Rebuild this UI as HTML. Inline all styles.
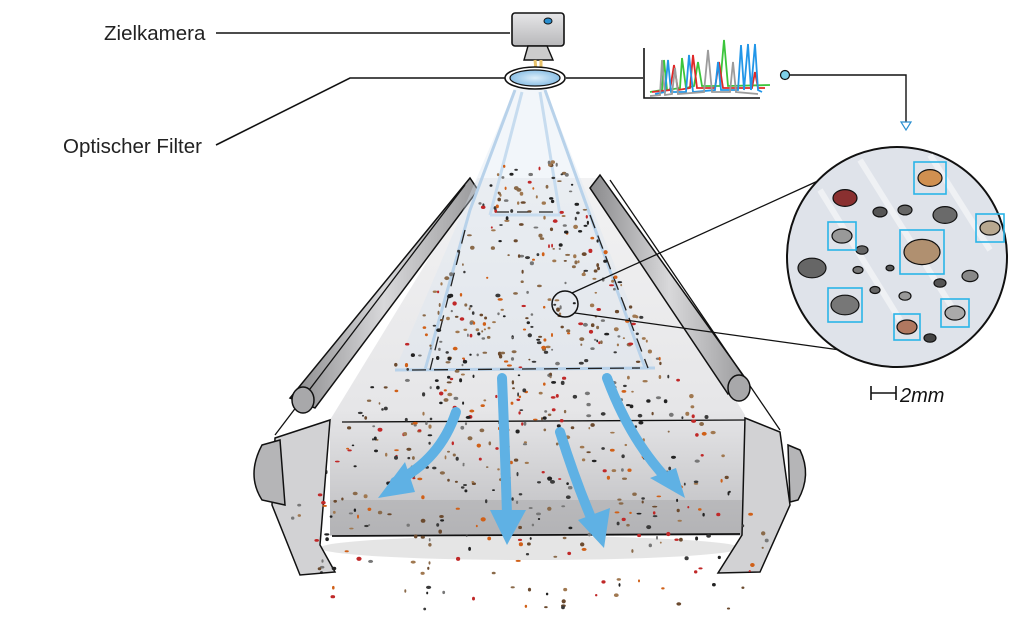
<!DOCTYPE html>
<html><head><meta charset="utf-8"><style>
html,body{margin:0;padding:0;background:#fff;width:1030px;height:618px;overflow:hidden}
svg text{font-family:"Liberation Sans",sans-serif}
</style></head><body>
<svg id="s" width="1030" height="618" viewBox="0 0 1030 618" xmlns="http://www.w3.org/2000/svg">
<defs>
<linearGradient id="belt" x1="0" y1="0" x2="0" y2="1">
<stop offset="0" stop-color="#f2f2f3"/><stop offset="0.65" stop-color="#e6e6e8"/><stop offset="1" stop-color="#bdbdc0"/></linearGradient>
<linearGradient id="rail" x1="0" y1="0" x2="1" y2="0">
<stop offset="0" stop-color="#8a8a8c"/><stop offset="0.5" stop-color="#d8d8da"/><stop offset="1" stop-color="#9a9a9c"/></linearGradient>
<linearGradient id="cam" x1="0" y1="0" x2="0" y2="1">
<stop offset="0" stop-color="#e6e6e8"/><stop offset="1" stop-color="#b8b8ba"/></linearGradient>
<radialGradient id="lens" cx="0.5" cy="0.5" r="0.5"><stop offset="0" stop-color="#dceefa"/><stop offset="1" stop-color="#8cc0e6"/></radialGradient>
</defs>
<text x="104" y="40" font-size="20.5" fill="#222">Zielkamera</text>
<text x="63" y="153" font-size="20.5" fill="#222">Optischer Filter</text>
<path d="M216 33 L510 33" stroke="#111" stroke-width="1.6" fill="none"/>
<path d="M216 145 L350 78 L505 78" stroke="#111" stroke-width="1.6" fill="none"/>
<path d="M566 78 L643 78" stroke="#111" stroke-width="1.6" fill="none"/>
<polygon points="478,178 598,178 745,415 745,535 330,535 330,420" fill="url(#belt)"/>
<rect x="330" y="500" width="415" height="36" fill="#a9a9ac" opacity="0.5"/>
<ellipse cx="530" cy="548" rx="210" ry="12" fill="#ccc" opacity="0.5"/>
<path d="M342 422 L745 420" stroke="#111" stroke-width="1.3"/>
<path d="M332 536 L740 534" stroke="#111" stroke-width="1.8"/>
<path d="M470 178 L290 398 L315 408 L478 190 Z" fill="url(#rail)" stroke="#111" stroke-width="1.5"/>
<path d="M600 175 L748 382 L728 394 L590 188 Z" fill="url(#rail)" stroke="#111" stroke-width="1.5"/>
<path d="M465 185 L275 435" stroke="#111" stroke-width="1.3"/>
<path d="M610 180 L780 430" stroke="#111" stroke-width="1.3"/>
<ellipse cx="303" cy="400" rx="11" ry="13" fill="#a8a8aa" stroke="#111" stroke-width="1.5"/>
<ellipse cx="739" cy="388" rx="11" ry="13" fill="#a8a8aa" stroke="#111" stroke-width="1.5"/>
<path d="M275 438 L330 420 L320 545 L335 572 L300 575 L272 505 Z" fill="#d2d2d4" stroke="#111" stroke-width="1.5"/>
<path d="M262 445 L280 440 L285 505 L262 500 Q246 475 262 445 Z" fill="#b5b5b7" stroke="#111" stroke-width="1.5"/>
<path d="M745 418 L780 432 L790 505 L760 572 L718 573 L742 535 Z" fill="#d2d2d4" stroke="#111" stroke-width="1.5"/>
<path d="M788 445 L800 450 Q812 475 798 500 L790 502 Z" fill="#b5b5b7" stroke="#111" stroke-width="1.5"/>
<polygon points="515,88 545,88 655,368 395,370" fill="#dbe6f2" opacity="0.35"/>
<path d="M515 90 L470 210 L425 370 M545 90 L590 215 L645 368 M395 370 L655 368" stroke="#b8d2ea" stroke-width="3" fill="none"/>
<path d="M522 92 L490 215 M540 92 L560 215 M490 215 L560 215" stroke="#c7dcef" stroke-width="3" fill="none"/>
<path d="M495 212 L555 212 M465 230 L430 370 M590 215 L648 368 M412 370 L640 368" stroke="#222" stroke-width="1.3" stroke-dasharray="14 8" fill="none"/>
<g id="parts"></g>
<g stroke="#5fb1e4" stroke-width="10" fill="none" stroke-linecap="round">
<path d="M502 378 Q505 450 507 515"/>
<path d="M560 432 Q575 480 592 520"/>
<path d="M456 412 Q440 460 395 482"/>
<path d="M607 378 Q630 440 668 480"/>
</g>
<g fill="#5fb1e4">
<polygon points="490,510 526,510 507,545"/>
<polygon points="578,520 610,508 604,548"/>
<polygon points="405,462 415,492 378,498"/>
<polygon points="650,478 676,468 685,498"/>
</g>
<rect x="512" y="13" width="52" height="33" rx="3" fill="url(#cam)" stroke="#111" stroke-width="1.6"/>
<ellipse cx="548" cy="21" rx="4" ry="3" fill="#2a8fd0" stroke="#111" stroke-width="1"/>
<path d="M528 46 L547 46 L553 60 L524 60 Z" fill="#ccc" stroke="#111" stroke-width="1.4"/>
<path d="M535 60 L536 70 M541 60 L541 70" stroke="#e8c26a" stroke-width="3"/>
<ellipse cx="535" cy="78" rx="30" ry="11" fill="#fff" stroke="#111" stroke-width="1.6"/>
<ellipse cx="535" cy="78" rx="25" ry="8" fill="url(#lens)" stroke="#111" stroke-width="1.2"/>
<path d="M644 48 L644 98 L760 98" stroke="#111" stroke-width="1.6" fill="none"/>
<path d="M650 92 L662 90 L664 60 L667 90 L680 88 L682 58 L686 88 L694 86 L698 62 L702 86 L720 86 L724 40 L728 86 L770 85" stroke="#3cc53c" stroke-width="1.8" fill="none"/>
<path d="M652 92 L670 90 L674 65 L678 90 L690 88 L693 55 L697 88 L715 88 L719 62 L723 88 L752 88 L755 72 L758 88 L765 88" stroke="#e02828" stroke-width="1.8" fill="none"/>
<path d="M655 94 L665 92 L668 60 L671 92 L686 92 L689 55 L693 92 L715 90 L718 62 L721 90 L738 90 L741 45 L744 90 L748 44 L751 90 L755 44 L758 90 L762 92" stroke="#2196e8" stroke-width="1.8" fill="none"/>
<path d="M650 96 L660 95 L662 60 L665 95 L672 94 L675 68 L678 94 L704 92 L708 50 L712 92 L730 92 L733 62 L736 92 L758 94" stroke="#9c9c9c" stroke-width="1.8" fill="none"/>
<circle cx="785" cy="75" r="4.5" fill="#7fd0e8" stroke="#111" stroke-width="1.2"/>
<path d="M790 75 L906 75 L906 122" stroke="#111" stroke-width="1.4" fill="none"/>
<polygon points="901,122 911,122 906,130" fill="#fff" stroke="#2a8fd0" stroke-width="1.2"/>
<circle cx="565" cy="304" r="13" fill="none" stroke="#111" stroke-width="1.5"/>
<path d="M572 293 L820 180 M575 313 L840 350" stroke="#111" stroke-width="1.3"/>
<circle cx="897" cy="257" r="110" fill="#dfe3ea" stroke="#111" stroke-width="2"/>
<g stroke="#fff" stroke-width="6" opacity="0.5"><path d="M820 190 L900 320 M860 160 L960 320 M930 155 L990 250"/></g>
<g id="rocks"></g>
<path d="M871 386 L871 400 M871 393 L896 393 M896 386 L896 400" stroke="#111" stroke-width="1.6"/>
<text x="900" y="402" font-size="20" fill="#111" font-style="italic">2mm</text>
</svg>
<script>
(function(){
var s=1234567;function r(){s=(s*16807)%2147483647;return s/2147483647;}
var cols=["#c02828","#6b4a2e","#3a3a3a","#8a6a4a","#d06018","#777","#a07850","#222"];
var g=document.getElementById("parts"),h="";
for(var i=0;i<900;i++){
 var y=160+r()*450,t;
 var w;
 if(y<370){t=(y-160)/210;w=30+t*110;}else if(y<540){w=150+(y-370)*0.6;}else{w=240-(y-540)*0.5;}
 var x=530+(r()*2-1)*w;
 if(y>540&&r()<0.5)continue;
 if(y<300&&r()<0.45)continue;
 var c=cols[Math.floor(r()*cols.length)];
 var rx=0.9+r()*1.7,ry=0.9+r()*1.2;
 h+='<ellipse cx="'+x.toFixed(1)+'" cy="'+y.toFixed(1)+'" rx="'+rx.toFixed(1)+'" ry="'+ry.toFixed(1)+'" fill="'+c+'"/>';
}
g.innerHTML=h;
var rk=[[845,198,12,"#8a3030"],[930,178,12,"#d09050"],[880,212,7,"#555"],[905,210,7,"#666"],[945,215,12,"#6a6a6a"],[990,228,10,"#b8a890"],[842,236,10,"#999"],[922,252,18,"#b09070"],[862,250,6,"#666"],[812,268,14,"#666"],[858,270,5,"#777"],[890,268,4,"#555"],[970,276,8,"#888"],[940,283,6,"#555"],[845,305,14,"#777"],[905,296,6,"#999"],[955,313,10,"#aaa"],[907,327,10,"#b07860"],[930,338,6,"#444"],[875,290,5,"#666"]];
var R=document.getElementById("rocks"),q="";
rk.forEach(function(a){q+='<ellipse cx="'+a[0]+'" cy="'+a[1]+'" rx="'+a[2]+'" ry="'+(a[2]*0.7)+'" fill="'+a[3]+'" stroke="#111" stroke-width="1.2"/>';});
[[930,178,16],[990,228,14],[842,236,14],[922,252,22],[845,305,17],[955,313,14],[907,327,13]].forEach(function(a){q+='<rect x="'+(a[0]-a[2])+'" y="'+(a[1]-a[2])+'" width="'+(2*a[2])+'" height="'+(2*a[2])+'" fill="none" stroke="#2ab4e8" stroke-width="1.6"/>';});
R.innerHTML=q;
})();
</script>
</body></html>
